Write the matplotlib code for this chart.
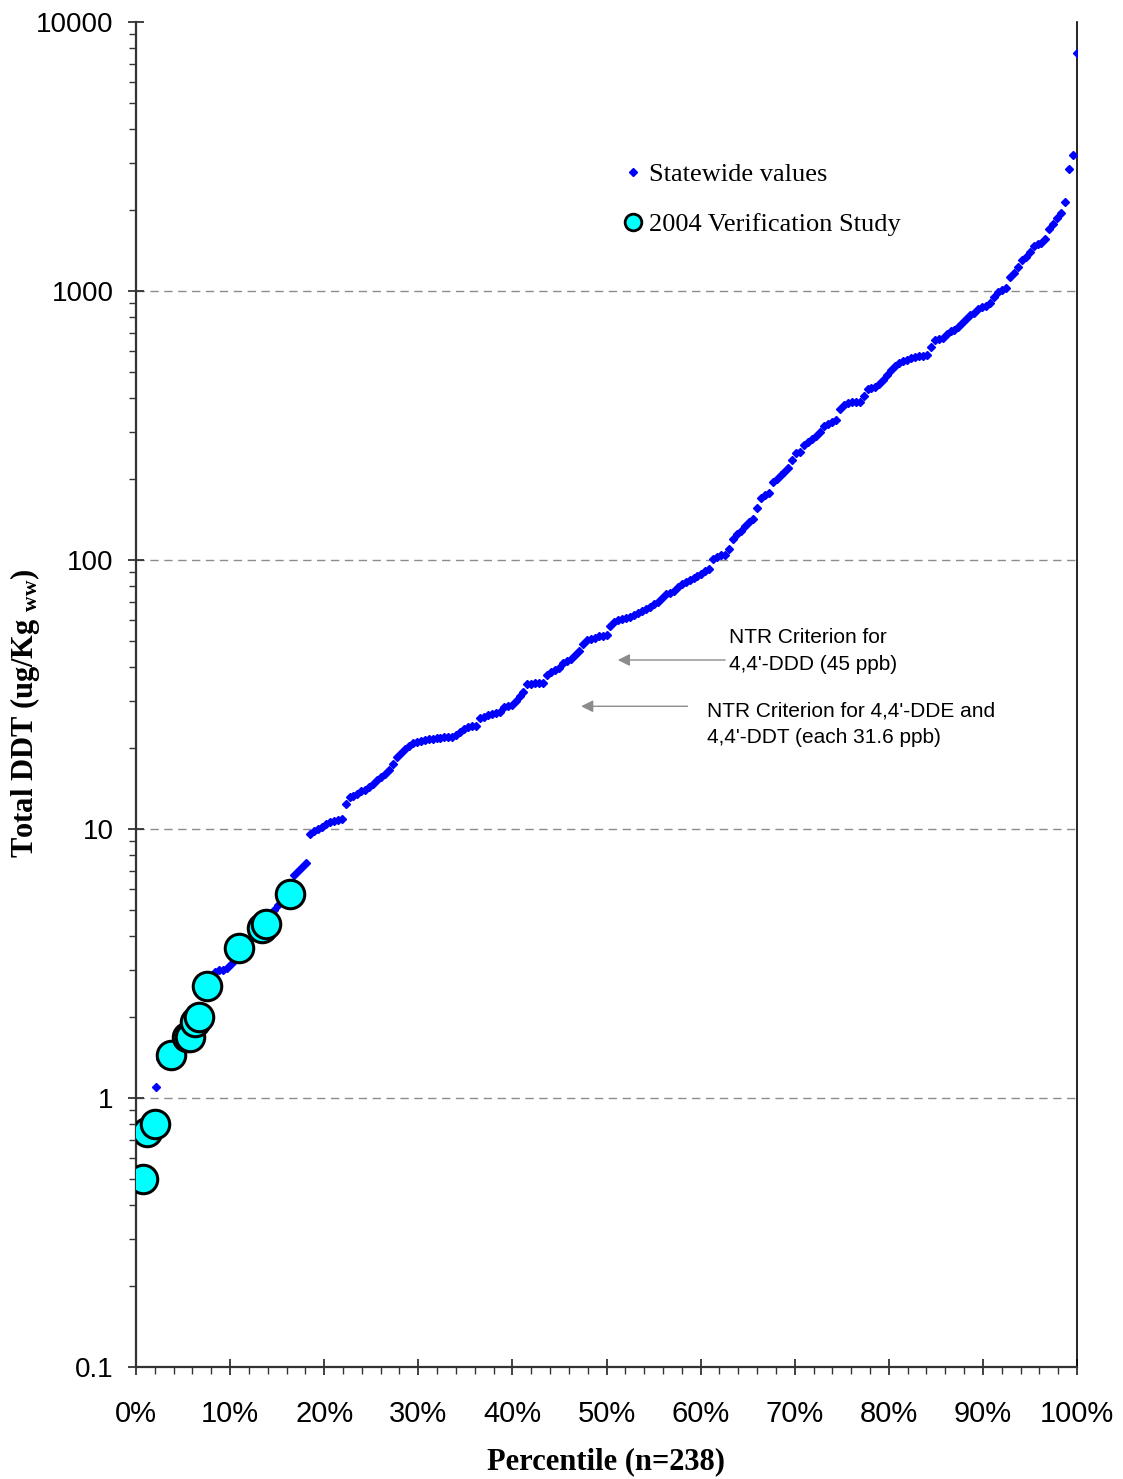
import matplotlib
matplotlib.use("Agg")
import matplotlib.pyplot as plt
import numpy as np
from matplotlib.lines import Line2D
from matplotlib.ticker import FixedLocator, LogLocator, NullFormatter, PercentFormatter

# statewide total DDT (ug/Kg ww), sorted, n=238
statewide_ddt = [
    0.50, 0.70, 0.75, 0.80, 1.10, 1.40, 1.43, 1.45, 1.47, 1.55,
    1.62, 1.68, 1.70, 1.72, 1.85, 1.95, 2.05, 2.60, 2.70, 2.95,
    3.00, 3.00, 3.05, 3.15, 3.25, 3.55, 3.70, 3.85, 3.95, 4.05,
    4.25, 4.35, 4.45, 4.70, 5.00, 5.20, 5.50, 5.75, 6.10, 6.75,
    7.00, 7.25, 7.50, 9.60, 9.80, 10.0, 10.2, 10.4, 10.6, 10.7,
    10.8, 10.9, 12.4, 13.1, 13.3, 13.5, 13.8, 14.0, 14.3, 14.7,
    15.2, 15.6, 16.0, 16.6, 17.5, 18.6, 19.2, 19.9, 20.4, 20.8,
    21.1, 21.3, 21.5, 21.6, 21.7, 21.8, 21.8, 21.9, 21.9, 22.0,
    22.3, 22.9, 23.5, 23.9, 24.1, 24.2, 25.9, 26.2, 26.5, 26.8,
    27.0, 27.3, 28.5, 28.7, 28.9, 30.0, 31.3, 32.4, 34.5, 34.7,
    34.8, 34.9, 35.0, 37.3, 38.2, 39.0, 39.8, 41.4, 42.0, 43.0,
    44.5, 46.0, 48.6, 50.6, 51.0, 51.5, 52.0, 52.3, 52.5, 56.7,
    59.0, 60.0, 60.5, 61.0, 61.3, 62.5, 63.8, 64.5, 65.5, 66.8,
    68.5, 70.0, 72.0, 74.5, 75.5, 77.0, 79.5, 81.5, 83.0, 84.5,
    86.0, 87.5, 89.0, 91.0, 93.0, 100.7, 103, 104, 104.5, 110,
    120, 125, 128, 134, 139, 142, 156, 170, 174, 177,
    195, 200, 207, 213, 220, 236, 250, 252, 268, 275,
    282, 290, 298, 315, 320, 325, 333, 365, 378, 385,
    386, 387, 388, 408, 432, 436, 440, 452, 466, 488,
    510, 525, 540, 550, 555, 562, 568, 572, 574, 576,
    620, 655, 662, 668, 690, 712, 718, 735, 760, 790,
    815, 830, 860, 870, 880, 900, 950, 990, 1010, 1030,
    1130, 1170, 1230, 1300, 1340, 1400, 1470, 1490, 1510, 1560,
    1700, 1780, 1870, 1950, 2150, 2850, 3200, 7700,
]
statewide_pct = np.arange(1, len(statewide_ddt) + 1) / len(statewide_ddt) * 100

# 2004 verification study samples (percentile, value)
study_pct = [0.7, 1.2, 2.0, 3.7, 5.45, 5.75, 6.3, 6.7, 7.5, 10.9, 13.4, 13.8, 16.4]
study_ddt = [0.50, 0.75, 0.80, 1.45, 1.69, 1.69, 1.92, 2.0, 2.6, 3.6, 4.3, 4.45, 5.75]

x_ticks = [0, 10, 20, 30, 40, 50, 60, 70, 80, 90, 100]
y_ticks = [0.1, 1, 10, 100, 1000, 10000]
y_tick_labels = ["0.1", "1", "10", "100", "1000", "10000"]

plt.rcParams["mathtext.fontset"] = "custom"
plt.rcParams["mathtext.rm"] = "Liberation Serif"
plt.rcParams["mathtext.bf"] = "Liberation Serif:bold"

fig = plt.figure(figsize=(11.23, 14.79), dpi=100)
ax = fig.add_axes([0.1211, 0.0757, 0.8380, 0.9094])

ax.plot(statewide_pct, statewide_ddt, linestyle="none", marker="D",
        markersize=4.2, color="#0000FF", zorder=3)
ax.plot(study_pct, study_ddt, linestyle="none", marker="o", markersize=20.5,
        markerfacecolor="#00FFFF", markeredgecolor="black", markeredgewidth=2.2, zorder=4)

ax.set_yscale("log")
ax.set_xlim(0, 100)
ax.set_ylim(0.1, 10000)

# horizontal dashed gridlines at decades
for v in [1, 10, 100, 1000]:
    ax.axhline(v, color="#8c8c8c", linestyle=(0, (6, 4)), linewidth=1.0, zorder=1)

ax.set_yticks(y_ticks)
ax.set_yticklabels(y_tick_labels)
ax.yaxis.set_minor_locator(LogLocator(base=10, subs=np.arange(2, 10)))
ax.yaxis.set_minor_formatter(NullFormatter())
ax.set_xticks(x_ticks)
ax.xaxis.set_major_formatter(PercentFormatter(decimals=0))
ax.xaxis.set_minor_locator(FixedLocator(np.arange(0, 101, 2)))

ax.tick_params(axis="both", which="major", direction="inout", length=12, width=1.3,
               color="#333333")
ax.tick_params(axis="both", which="minor", direction="out", length=5, width=1.0,
               color="#333333")
ax.tick_params(axis="x", which="major", pad=18)
ax.tick_params(axis="y", which="major", pad=10)

for lab in ax.get_yticklabels():
    lab.set_fontfamily(["Liberation Sans", "DejaVu Sans"])
    lab.set_fontsize(20)
for lab in ax.get_xticklabels():
    lab.set_fontfamily(["Liberation Sans Narrow", "Liberation Sans", "DejaVu Sans"])
    lab.set_fontsize(21)

ax.spines["top"].set_visible(False)
ax.spines["left"].set_linewidth(1.6)
ax.spines["bottom"].set_linewidth(1.6)
ax.spines["left"].set_color("#333333")
ax.spines["bottom"].set_color("#333333")
ax.spines["right"].set_linewidth(1.2)

# axis titles placed directly so they stay inside the figure
fig.text(606 / 1123, 1 - 1462 / 1479, "Percentile (n=238)", fontfamily="Liberation Serif",
         fontweight="bold", fontsize=22, ha="center", va="center")
fig.text(25 / 1123, 1 - 713 / 1479, r"Total DDT (ug/Kg $\mathbf{_{ww}}$)",
         fontfamily="Liberation Serif", fontweight="bold", fontsize=22,
         rotation=90, ha="center", va="center")

# legend
handles = [
    Line2D([], [], linestyle="none", marker="D", markersize=4.2, color="#0000FF"),
    Line2D([], [], linestyle="none", marker="o", markersize=12, markerfacecolor="#00FFFF",
           markeredgecolor="black", markeredgewidth=2.0),
]
ax.legend(handles, ["Statewide values", "2004 Verification Study"],
          loc="upper left", bbox_to_anchor=(0.486, 0.913), frameon=False,
          prop={"family": "Liberation Serif", "size": 19},
          handletextpad=0.0, handlelength=1.2, labelspacing=1.0)

# NTR criteria annotations
arrow_style = dict(arrowstyle="-|>", color="#8c8c8c", lw=1.0, mutation_scale=18)
ax.annotate("", xy=(50.9, 42.5), xytext=(62.9, 42.5), arrowprops=arrow_style)
ax.annotate("", xy=(47.0, 28.6), xytext=(58.9, 28.6), arrowprops=arrow_style)
ax.text(63.0, 46.0, "NTR Criterion for\n4,4'-DDD (45 ppb)", fontsize=15,
        fontfamily="Liberation Sans", va="center", ha="left", linespacing=1.5)
ax.text(60.7, 24.5, "NTR Criterion for 4,4'-DDE and\n4,4'-DDT (each 31.6 ppb)", fontsize=15,
        fontfamily="Liberation Sans", va="center", ha="left", linespacing=1.5)

fig.savefig("out.png", dpi=100)
